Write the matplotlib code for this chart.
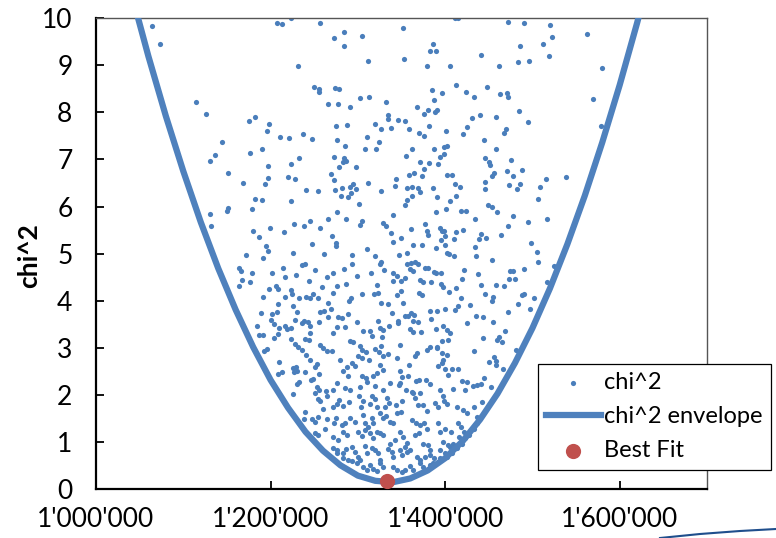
import matplotlib.pyplot as plt
from matplotlib.ticker import FuncFormatter
from matplotlib.lines import Line2D

plt.rcParams['font.family'] = ['Lato', 'DejaVu Sans']

upper_left = [
    (1064.6, 9.84), (1073.8, 9.44), (1206.9, 9.89), (1213.4, 9.87), (1223.7, 9.99), (1231.8, 8.99),
    (1114.3, 8.22), (1126.2, 7.97), (1175.5, 7.81), (1182.0, 7.90), (1197.7, 7.75), (1195.4, 7.61),
    (1211.1, 7.48), (1221.1, 7.46), (1144.9, 7.37), (1136.5, 7.10), (1130.8, 6.97), (1176.7, 7.14),
    (1190.1, 7.22), (1223.3, 6.91), (1232.5, 7.03), (1197.3, 6.85), (1151.1, 6.72), (1167.9, 6.50),
    (1193.1, 6.48), (1197.3, 6.61), (1219.9, 6.62), (1228.3, 6.58), (1182.0, 6.15), (1189.7, 6.13),
    (1223.7, 6.11), (1151.8, 5.96), (1150.3, 5.91), (1178.2, 5.94), (1130.8, 5.84), (1131.5, 5.59),
    (1179.4, 5.49), (1186.2, 5.36), (1198.9, 5.54), (1214.9, 5.45), (1226.8, 5.62), (1194.3, 5.17),
]

upper_mid = [
    (1256.9, 9.89), (1283.7, 9.71), (1272.2, 9.57), (1304.4, 9.61), (1284.1, 9.41), (1351.8, 9.79),
    (1312.0, 9.09), (1353.3, 9.13), (1386.6, 9.44), (1382.4, 9.31), (1389.3, 9.31), (1379.0, 8.99),
    (1405.3, 8.99), (1411.5, 9.99), (1414.9, 9.99), (1249.7, 8.53), (1255.8, 8.50), (1255.4, 8.43),
    (1274.1, 8.51), (1278.0, 8.50), (1265.7, 8.17), (1277.2, 8.17), (1291.4, 8.11), (1302.8, 8.30),
    (1312.4, 8.33), (1331.9, 8.21), (1334.6, 7.95), (1334.6, 7.86), (1345.7, 7.84), (1353.7, 7.81),
    (1367.9, 8.12), (1385.1, 8.47), (1387.8, 8.27), (1396.9, 8.41), (1380.9, 8.05), (1375.9, 7.97),
    (1388.9, 8.00), (1391.2, 8.05), (1413.0, 8.57), (1423.7, 8.44), (1319.7, 7.75), (1326.5, 7.64),
    (1337.6, 7.66), (1359.1, 7.64), (1370.2, 7.56), (1375.5, 7.50), (1381.3, 7.70), (1400.8, 7.61),
    (1419.9, 7.54), (1425.6, 7.68), (1274.9, 7.70), (1287.2, 7.74), (1237.0, 7.54), (1247.0, 7.43),
    (1275.7, 7.41), (1285.2, 7.29), (1310.5, 7.48), (1323.9, 7.37), (1308.6, 7.21), (1320.4, 7.23),
    (1273.0, 7.05), (1284.1, 7.02), (1286.4, 6.97), (1283.0, 6.95), (1278.0, 6.83), (1298.2, 6.83),
    (1354.9, 7.08), (1362.1, 7.23), (1371.7, 6.95), (1382.0, 6.93), (1387.4, 7.21), (1391.6, 6.91),
    (1394.6, 7.06), (1398.8, 7.27), (1402.3, 7.29), (1399.2, 7.11), (1375.9, 6.79), (1373.2, 6.64),
    (1364.4, 6.71), (1358.7, 6.66), (1344.1, 6.59), (1343.0, 6.44), (1356.0, 6.40), (1362.5, 6.42),
    (1368.6, 6.40), (1370.9, 6.30), (1362.1, 6.23), (1354.5, 6.03), (1356.8, 6.13), (1386.6, 6.40),
    (1390.4, 6.21), (1402.3, 6.66), (1407.6, 6.66), (1411.5, 6.47), (1416.8, 6.42), (1412.2, 6.23),
    (1405.0, 6.11), (1401.5, 5.95), (1390.0, 5.89), (1418.0, 5.90), (1423.7, 5.91), (1268.8, 6.70),
    (1272.2, 6.57), (1240.1, 6.36), (1254.3, 6.33), (1273.4, 6.34), (1282.2, 6.40), (1281.0, 6.23),
    (1288.3, 6.21), (1292.1, 6.28), (1294.0, 6.47), (1291.4, 6.42), (1298.2, 6.37), (1311.6, 6.49),
    (1326.2, 6.32), (1301.7, 6.06), (1340.3, 5.82), (1275.7, 5.89), (1265.3, 5.73), (1286.8, 5.74),
    (1305.1, 5.70), (1302.8, 5.60), (1245.1, 5.70), (1238.2, 5.59), (1256.2, 5.55), (1270.0, 5.38),
    (1247.4, 5.20), (1275.3, 5.23), (1275.3, 5.16), (1328.8, 5.66), (1332.3, 5.59), (1337.6, 5.43),
    (1340.3, 5.25), (1349.1, 5.33), (1361.4, 5.53), (1377.4, 5.62), (1378.9, 5.48), (1380.9, 5.40),
    (1393.9, 5.55), (1396.2, 5.48), (1399.2, 5.47), (1399.6, 5.38), (1395.4, 5.29), (1411.9, 5.46),
    (1420.3, 5.50), (1410.0, 5.31), (1363.7, 5.18), (1373.2, 5.18), (1390.0, 5.11), (1399.6, 5.18),
    (1310.1, 5.09),
]

upper_right = [
    (1472.3, 9.92), (1489.9, 9.89), (1520.1, 9.86), (1522.8, 9.60), (1562.2, 9.65), (1486.1, 9.41),
    (1512.5, 9.44), (1440.9, 9.21), (1518.6, 9.19), (1462.0, 8.99), (1483.0, 9.06), (1496.0, 9.09),
    (1579.8, 8.94), (1448.2, 8.53), (1432.9, 8.33), (1462.4, 8.39), (1470.4, 8.41), (1471.5, 8.33),
    (1569.1, 8.28), (1484.2, 8.02), (1439.4, 7.94), (1431.0, 7.88), (1458.5, 7.89), (1494.5, 7.79),
    (1578.6, 7.71), (1469.6, 7.64), (1466.9, 7.56), (1444.0, 7.42), (1458.5, 7.22), (1445.5, 7.02),
    (1450.5, 6.95), (1451.3, 6.88), (1475.4, 6.99), (1487.6, 6.77), (1470.8, 6.75), (1477.7, 6.64),
    (1455.5, 6.71), (1453.9, 6.64), (1445.5, 6.51), (1445.1, 6.37), (1473.1, 6.46), (1485.3, 6.48),
    (1482.6, 6.37), (1515.5, 6.58), (1538.9, 6.62), (1508.3, 6.42), (1506.7, 6.15), (1449.0, 6.03),
    (1453.2, 5.98), (1458.9, 5.88), (1434.4, 5.73), (1477.3, 5.79), (1471.5, 5.59), (1495.3, 5.68),
    (1517.1, 5.73), (1441.3, 5.42), (1439.0, 5.31), (1446.7, 5.34), (1463.9, 5.40), (1433.7, 5.14),
    (1497.9, 5.22),
]

lower_right = [
    (1453.5, 4.86), (1504.7, 5.03), (1506.7, 4.82), (1474.5, 4.63), (1477.2, 4.64), (1490.2, 4.68),
    (1473.0, 4.46), (1480.6, 4.46), (1458.8, 4.33), (1467.6, 4.31), (1440.9, 4.34), (1445.5, 4.15),
    (1455.0, 4.08), (1453.9, 4.00), (1487.5, 4.12), (1490.6, 4.15), (1483.3, 3.94), (1502.1, 4.05),
    (1497.5, 3.83), (1516.6, 4.40), (1525.0, 4.74), (1472.2, 3.76), (1442.8, 3.66), (1455.4, 3.56),
    (1468.8, 3.35), (1443.5, 3.22), (1459.2, 3.16), (1461.9, 3.23), (1465.0, 3.13), (1481.0, 2.95),
    (1456.5, 2.81), (1458.5, 2.72), (1457.7, 2.64), (1450.0, 2.70), (1466.1, 2.55), (1444.3, 2.36),
    (1440.9, 2.23), (1452.0, 2.18), (1442.0, 1.86),
]

lower_left = [
    (1171.3, 4.97), (1191.1, 4.90), (1196.5, 5.06), (1225.6, 5.02), (1261.5, 4.99), (1163.6, 4.70),
    (1165.9, 4.64), (1178.5, 4.59), (1167.4, 4.44), (1163.6, 4.32), (1176.2, 4.39), (1201.5, 4.59),
    (1213.7, 4.69), (1216.8, 4.51), (1229.4, 4.54), (1235.9, 4.76), (1238.9, 4.79), (1250.8, 4.65),
    (1264.2, 4.51), (1244.0, 4.41), (1206.4, 4.32), (1208.7, 4.25), (1198.4, 4.25), (1191.1, 4.08),
    (1223.3, 4.22), (1224.4, 4.14), (1216.4, 4.09), (1232.5, 4.05), (1240.5, 4.09), (1245.1, 4.05),
    (1248.1, 4.14), (1258.5, 4.30), (1254.6, 4.06), (1266.1, 3.95), (1208.0, 3.93), (1189.6, 3.74),
    (1201.9, 3.71), (1207.2, 3.77), (1225.6, 3.88), (1230.5, 3.76), (1200.7, 3.59), (1203.8, 3.51),
    (1209.5, 3.42), (1216.8, 3.47), (1218.7, 3.40), (1223.7, 3.43), (1228.3, 3.60), (1235.9, 3.53),
    (1238.6, 3.57), (1243.2, 3.56), (1245.1, 3.47), (1255.8, 3.56), (1256.6, 3.77), (1260.8, 3.79),
    (1265.7, 3.65), (1184.3, 3.47), (1187.3, 3.27), (1191.5, 3.28), (1208.0, 3.29), (1204.5, 3.20),
    (1223.3, 3.18), (1227.9, 3.08), (1231.3, 3.02), (1239.7, 3.19), (1243.5, 3.16), (1245.5, 3.31),
    (1256.6, 3.06), (1260.4, 2.99), (1265.0, 2.94), (1235.9, 2.96), (1240.1, 2.85), (1245.5, 2.75),
    (1195.4, 2.98), (1191.9, 2.94), (1209.5, 2.71), (1252.7, 2.65), (1251.2, 2.59), (1225.2, 2.57),
    (1229.0, 2.59), (1229.8, 2.52), (1227.1, 2.48), (1208.0, 2.44), (1213.3, 2.49), (1239.3, 2.48),
    (1255.8, 2.45), (1248.1, 2.35), (1245.8, 2.31), (1232.5, 2.28), (1229.8, 2.24), (1226.0, 2.02),
    (1252.7, 2.16), (1255.0, 2.11), (1250.8, 2.04), (1263.1, 2.08), (1264.6, 1.97), (1254.3, 1.92),
    (1256.6, 1.87), (1259.6, 1.70), (1239.7, 1.65), (1237.8, 1.50), (1247.4, 1.49), (1250.8, 1.42),
    (1254.3, 1.54), (1264.6, 1.49), (1262.3, 1.28), (1250.4, 1.20), (1253.9, 1.16),
]

lower_mid = [
    (1293.6, 4.97), (1319.6, 4.94), (1326.5, 4.83), (1325.8, 4.78), (1347.6, 4.98), (1356.4, 5.01),
    (1356.0, 4.78), (1360.6, 4.81), (1365.9, 4.82), (1369.0, 4.78), (1359.8, 4.67), (1363.6, 4.63),
    (1377.0, 4.69), (1380.8, 4.70), (1387.0, 4.61), (1389.6, 4.58), (1395.4, 4.58), (1401.9, 5.02),
    (1404.6, 4.99), (1410.7, 4.94), (1422.1, 4.66), (1435.2, 4.95), (1438.2, 4.56), (1271.8, 4.58),
    (1284.1, 4.67), (1293.2, 4.78), (1299.4, 4.52), (1315.4, 4.59), (1330.0, 4.65), (1340.7, 4.59),
    (1345.3, 4.53), (1349.5, 4.42), (1353.7, 4.48), (1340.7, 4.41), (1321.6, 4.34), (1275.7, 4.32),
    (1286.4, 4.35), (1371.3, 4.44), (1374.3, 4.40), (1383.5, 4.39), (1395.0, 4.36), (1397.7, 4.29),
    (1419.1, 4.46), (1404.9, 4.19), (1412.6, 4.27), (1418.7, 4.06), (1304.3, 4.14), (1318.9, 4.14),
    (1322.7, 4.16), (1292.1, 4.05), (1289.8, 4.00), (1271.8, 4.16), (1269.1, 3.82), (1344.5, 4.13),
    (1349.1, 4.21), (1351.8, 3.96), (1370.1, 4.17), (1373.2, 4.13), (1326.9, 3.96), (1334.6, 3.93),
    (1338.8, 3.75), (1361.0, 3.75), (1364.4, 3.69), (1354.4, 3.68), (1357.5, 3.67), (1382.4, 3.79),
    (1390.4, 3.79), (1399.6, 3.83), (1411.4, 3.81), (1415.3, 3.88), (1428.3, 3.91), (1425.6, 3.53),
    (1435.5, 3.67), (1277.6, 3.66), (1281.4, 3.63), (1289.0, 3.71), (1299.4, 3.54), (1275.7, 3.44),
    (1285.2, 3.44), (1271.1, 3.32), (1305.5, 3.36), (1313.9, 3.35), (1316.2, 3.25), (1323.5, 3.57),
    (1325.4, 3.42), (1329.2, 3.38), (1327.3, 3.24), (1336.1, 3.47), (1346.4, 3.58), (1345.6, 3.52),
    (1363.6, 3.57), (1369.4, 3.55), (1359.8, 3.40), (1362.9, 3.34), (1372.0, 3.34), (1383.9, 3.62),
    (1389.6, 3.41), (1398.1, 3.47), (1402.6, 3.38), (1396.1, 3.14), (1390.8, 2.99), (1405.7, 3.31),
    (1403.8, 3.16), (1432.5, 2.94), (1291.0, 3.15), (1294.8, 3.13), (1270.3, 2.94), (1302.4, 3.03),
    (1304.3, 2.96), (1309.3, 2.92), (1300.1, 2.83), (1304.7, 2.79), (1312.4, 2.74), (1292.9, 2.67),
    (1296.7, 2.62), (1287.1, 2.60), (1283.3, 2.50), (1289.0, 2.40), (1279.5, 2.75), (1319.3, 2.97),
    (1326.1, 3.03), (1324.6, 2.92), (1329.2, 2.82), (1334.9, 2.87), (1344.5, 2.79), (1348.3, 3.06),
    (1358.7, 2.64), (1365.2, 2.83), (1367.8, 2.89), (1378.9, 2.96), (1383.1, 3.01), (1390.4, 3.01),
    (1396.5, 2.89), (1398.1, 2.74), (1401.9, 2.85), (1392.3, 2.62), (1396.1, 2.67), (1400.0, 2.55),
    (1403.0, 2.43), (1408.4, 2.56), (1415.3, 2.55), (1419.1, 2.30), (1425.6, 2.28), (1423.3, 2.11),
    (1431.7, 2.19), (1436.3, 2.21), (1325.4, 2.64), (1328.4, 2.53), (1321.6, 2.46), (1317.7, 2.40),
    (1348.3, 2.50), (1350.2, 2.39), (1336.9, 2.26), (1348.3, 2.26), (1347.6, 2.21), (1357.9, 2.40),
    (1366.3, 2.30), (1370.5, 2.32), (1377.8, 2.32), (1382.8, 2.23), (1304.7, 2.40), (1309.3, 2.36),
    (1310.8, 2.27), (1302.4, 2.18), (1319.6, 2.19), (1285.6, 2.15), (1291.0, 2.11), (1275.7, 2.25),
    (1271.1, 2.11), (1329.2, 2.11), (1355.2, 2.11), (1361.7, 2.07), (1371.3, 2.04), (1394.2, 2.11),
    (1398.1, 1.97), (1409.5, 2.12),
]

bottom = [
    (1278.7, 1.89), (1275.7, 1.81), (1271.8, 1.75), (1290.2, 1.86), (1283.3, 1.77), (1301.7, 1.97),
    (1306.3, 1.88), (1303.2, 1.75), (1315.8, 1.97), (1319.6, 1.91), (1313.9, 1.82), (1321.6, 1.75),
    (1333.0, 1.93), (1336.1, 1.84), (1331.1, 1.75), (1343.7, 1.79), (1350.2, 1.88), (1363.6, 2.04),
    (1365.5, 1.93), (1369.0, 1.79), (1374.3, 1.79), (1378.9, 1.66), (1388.5, 1.84), (1392.3, 1.75),
    (1399.2, 1.88), (1401.9, 1.81), (1413.4, 1.75), (1421.0, 1.68), (1424.8, 1.61), (1433.6, 1.75),
    (1436.3, 1.54), (1274.9, 1.51), (1272.6, 1.40), (1281.4, 1.36), (1285.2, 1.40), (1291.0, 1.52),
    (1296.7, 1.43), (1306.3, 1.58), (1315.8, 1.51), (1317.7, 1.40), (1325.4, 1.61), (1328.4, 1.51),
    (1332.3, 1.56), (1336.9, 1.43), (1340.7, 1.40), (1344.5, 1.61), (1349.1, 1.65), (1361.7, 1.46),
    (1366.7, 1.40), (1371.3, 1.36), (1375.9, 1.40), (1378.9, 1.29), (1392.3, 1.40), (1394.2, 1.22),
    (1400.0, 1.29), (1406.5, 1.22), (1415.3, 1.40), (1418.0, 1.33), (1422.1, 1.22), (1283.3, 1.22),
    (1287.9, 1.15), (1271.8, 1.12), (1277.6, 1.05), (1300.5, 1.22), (1304.3, 1.13), (1308.2, 1.26),
    (1313.9, 1.19), (1317.0, 1.08), (1321.6, 1.22), (1325.4, 1.19), (1329.2, 1.15), (1312.0, 1.33),
    (1308.2, 1.40), (1348.3, 1.22), (1352.2, 1.11), (1356.0, 0.99), (1365.5, 1.15), (1370.5, 1.20),
    (1342.6, 1.05), (1336.9, 0.97), (1375.1, 0.97), (1380.8, 0.94), (1382.8, 0.83), (1398.1, 1.01),
    (1403.8, 0.94), (1275.7, 0.83), (1286.4, 0.85), (1283.3, 0.76), (1292.9, 0.90), (1296.7, 0.80),
    (1300.5, 0.69), (1308.2, 0.92), (1310.1, 0.76), (1315.8, 0.87), (1319.6, 0.83), (1323.5, 0.76),
    (1325.4, 0.62), (1334.9, 0.85), (1338.8, 0.80), (1340.7, 0.69), (1348.3, 0.83), (1350.2, 0.73),
    (1354.0, 0.90), (1356.7, 0.80), (1359.8, 0.83), (1367.5, 0.69), (1371.3, 0.62), (1377.0, 0.69),
    (1382.8, 0.73), (1387.3, 0.66), (1394.2, 0.83), (1400.0, 0.76), (1405.7, 0.90), (1408.8, 0.97),
    (1306.3, 0.48), (1310.1, 0.41), (1313.9, 0.51), (1317.7, 0.44), (1321.6, 0.39), (1325.4, 0.55),
    (1329.2, 0.48), (1340.7, 0.48), (1344.5, 0.41), (1350.2, 0.37), (1354.0, 0.42), (1359.8, 0.49),
    (1363.6, 0.41), (1371.3, 0.55), (1375.1, 0.48), (1382.8, 0.51), (1386.6, 0.55), (1292.9, 0.59),
    (1298.6, 0.55), (1302.4, 0.63), (1283.3, 0.66), (1289.0, 0.62), (1275.7, 0.76), (1271.8, 0.87),
    (1394.2, 0.66), (1401.9, 0.69), (1407.6, 0.76), (1413.4, 0.87), (1419.1, 0.97), (1422.9, 1.08),
    (1427.9, 1.15), (1432.5, 1.29), (1436.3, 1.40), (1416.4, 1.12),
]

# envelope curve (thousands, chi^2)
envelope_x = [1040, 1060, 1080, 1100, 1120, 1140, 1160, 1180, 1200, 1220, 1240,
              1260, 1280, 1300, 1320, 1340, 1360, 1380, 1400, 1420, 1440, 1460,
              1480, 1500, 1520, 1540, 1560, 1580, 1600, 1620, 1640]
envelope_y = [10.56, 9.19, 7.92, 6.75, 5.67, 4.69, 3.81, 3.02, 2.32, 1.73, 1.22,
              0.82, 0.51, 0.29, 0.18, 0.15, 0.23, 0.40, 0.66, 1.02, 1.48, 2.03,
              2.68, 3.42, 4.26, 5.20, 6.23, 7.36, 8.58, 9.90, 11.32]

best_x = 1333.0
best_y = 0.18

xticks = [1000000, 1200000, 1400000, 1600000]

samples = upper_left + upper_mid + upper_right + lower_right + lower_left + lower_mid + bottom
xs = [p[0] * 1000 for p in samples]
ys = [p[1] for p in samples]

fig = plt.figure(figsize=(7.76, 5.38), dpi=100)
ax = fig.add_axes([96 / 776, 1 - 489.3 / 538, 611 / 776, 471.3 / 538])

ax.scatter(xs, ys, s=14, color='#4A7EBB', linewidths=0, label='chi^2', zorder=2)
ax.plot([v * 1000 for v in envelope_x], envelope_y, color='#4F81BD', lw=4.5,
        label='chi^2 envelope', zorder=3)
ax.scatter([best_x * 1000], [best_y], s=120, color='#C0504D', linewidths=0,
           label='Best Fit', zorder=4, clip_on=False)

ax.set_xlim(1000000, 1700000)
ax.set_ylim(0, 10)
ax.set_xticks(xticks)
ax.set_yticks(range(0, 11))
ax.xaxis.set_major_formatter(FuncFormatter(lambda v, p: f"{int(v):,}".replace(',', "'")))

ax.tick_params(axis='both', direction='in', length=6, width=1.3, labelsize=19)
ax.tick_params(axis='y', pad=17)
ax.tick_params(axis='x', pad=13)

for side in ['left', 'bottom']:
    ax.spines[side].set_linewidth(1.6)
    ax.spines[side].set_color('black')
for side in ['top', 'right']:
    ax.spines[side].set_linewidth(1.0)
    ax.spines[side].set_color('#555555')

ax.set_ylabel('chi^2', fontsize=19, fontweight='bold')
ax.yaxis.set_label_coords(-0.09, 0.497)

leg = ax.legend(loc='upper left', bbox_to_anchor=(538 / 776, 1 - 364 / 538),
                bbox_transform=fig.transFigure, fontsize=17, frameon=True,
                fancybox=False, edgecolor='black', framealpha=1, borderaxespad=0,
                handlelength=2.3, handletextpad=0.15, labelspacing=0.55,
                borderpad=0.35, scatterpoints=1)
leg.get_frame().set_linewidth(0.9)

# stray curve at bottom right of the screenshot
fig.add_artist(Line2D([660 / 776, 700 / 776, 740 / 776, 1.0],
                      [0.0, 4 / 538, 7 / 538, 9 / 538],
                      transform=fig.transFigure, color='#1F4E8C', lw=1.5))

fig.savefig('out.png', dpi=100)
